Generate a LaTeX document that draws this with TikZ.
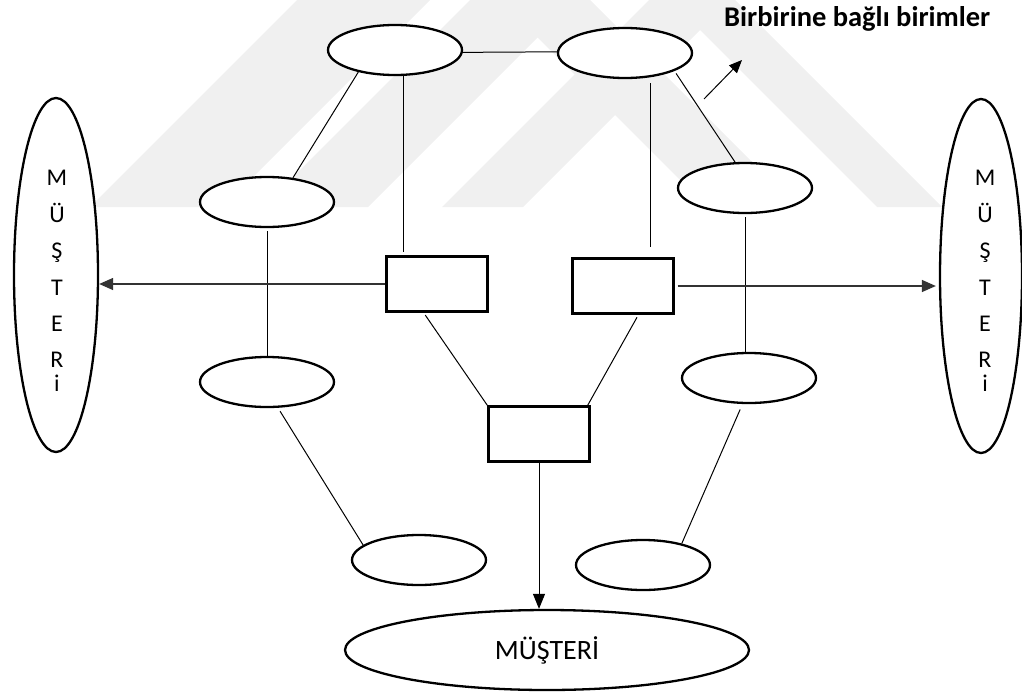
\documentclass[tikz,border=0pt]{standalone}
\usepackage{fontspec}
\setmainfont{Carlito}
\usetikzlibrary{arrows.meta,shapes.geometric,calc}
\begin{document}
\begin{tikzpicture}[x=1pt,y=-1pt,
  unit/.style={ellipse,draw,line width=2.3pt,minimum width=134,minimum height=50,inner sep=0pt},
  office/.style={rectangle,draw,line width=2.3pt,minimum width=101,minimum height=55,inner sep=0pt},
  client/.style={ellipse,draw,line width=2.3pt,inner sep=0pt},
  link/.style={line width=1pt},
  flow/.style={line width=1.3pt,draw=black!80,-{Triangle[length=14pt,width=12pt]}},
  letter/.style={font=\fontsize{24}{24}\selectfont,inner sep=0pt,anchor=base},
  shade/.style={fill=black!6,draw=none}
]
\useasboundingbox (0,0) rectangle (1022,696);

% faint background stripes
\begin{scope}
  \clip (0,0) rectangle (1022,207);
  % rising stripes on the left: x+y between the two bounds
  \foreach \lo/\hi in {297/430,470/575,649/730}{
    \fill[shade] (\lo-207,207) -- (\hi-207,207) -- (\hi,0) -- (\lo,0) -- cycle;
  }
  % falling stripes on the right: x-y between the two bounds
  \foreach \lo/\hi in {500/590,670/735}{
    \fill[shade] (\lo+207,207) -- (\hi+207,207) -- (\hi,0) -- (\lo,0) -- cycle;
  }
\end{scope}

% customers on both sides and below
\node[client,minimum width=84,minimum height=354,fill=white] (cl) at (56,275) {};
\node[client,minimum width=82,minimum height=354,fill=white] (cr) at (981,276) {};
\node[client,minimum width=404,minimum height=80,font=\fontsize{28}{28}\selectfont] (cb) at (547,650) {MÜŞTERİ};

% vertical lettering in the side ellipses
\foreach \ch/\yy [count=\k] in {M/185,Ü/222,Ş/258,T/295,E/331,R/367,i/391}{
  \node[letter] (lw\k) at (57,\yy) {\ch};
  \node[letter] (le\k) at (985,\yy) {\ch};
}

% interconnected units
\node[unit,fill=white] (e1) at (395,50) {};
\node[unit,fill=white] (e2) at (625,53) {};
\node[unit,fill=white] (e3) at (267,202) {};
\node[unit,fill=white] (e4) at (745,188) {};
\node[unit] (e5) at (267,382) {};
\node[unit] (e6) at (749,378) {};
\node[unit] (e7) at (419,560) {};
\node[unit] (e8) at (643,565) {};

% offices
\node[office] (r1) at (437,284) {};
\node[office] (r2) at (623,286) {};
\node[office] (r3) at (539,434) {};

% links between units
\draw[link] (e1.-2) -- (e2.179);
\draw[link] (e1.211) -- (e3.43);
\draw[link,shorten >=3pt] (e1.-71) -- (e1.-71 |- r1.north);
\draw[link,shorten <=6pt,shorten >=10pt] (e2.-44) -- (e2.-44 |- r2.north);
\draw[link,shorten <=3pt] (e2.-20) -- (e4.111);
\draw[link,shorten <=3pt] (e3.south) -- (e5.north);
\draw[link,shorten <=3pt] (e4.south) -- (e4.south |- e6.north);
\draw[link,shorten <=4pt] (e5.-67) -- (e7.165);
\draw[link,shorten <=6pt] (e6.-104) -- (e8.29);
\draw[link,shorten <=3pt] ($(r1.south west)!0.37!(r1.south east)$) -- (r3.north west);
\draw[link,shorten <=3pt] ($(r2.south west)!0.65!(r2.south east)$) -- ([xshift=-3pt]r3.north east);

% flows to the customers
\draw[flow] (r1.west) -- (r1.west -| cl.east);
\draw[flow,shorten <=3pt] (r2.east) -- ([xshift=-3pt]r2.east -| cr.west);
\draw[link,-{Triangle[length=15pt,width=12pt]}] (r3.south) -- (r3.south |- cb.north);

% legend
\coordinate (tagtail) at (704,99);
\coordinate (taghead) at (742,60);
\draw[link,-{Triangle[length=13pt,width=11pt]}] (tagtail) -- (taghead);
\node[font=\bfseries\fontsize{28.5}{28.5}\selectfont,anchor=base west,inner sep=0pt] (tag) at (724,27) {Birbirine bağlı birimler};
\end{tikzpicture}
\end{document}
